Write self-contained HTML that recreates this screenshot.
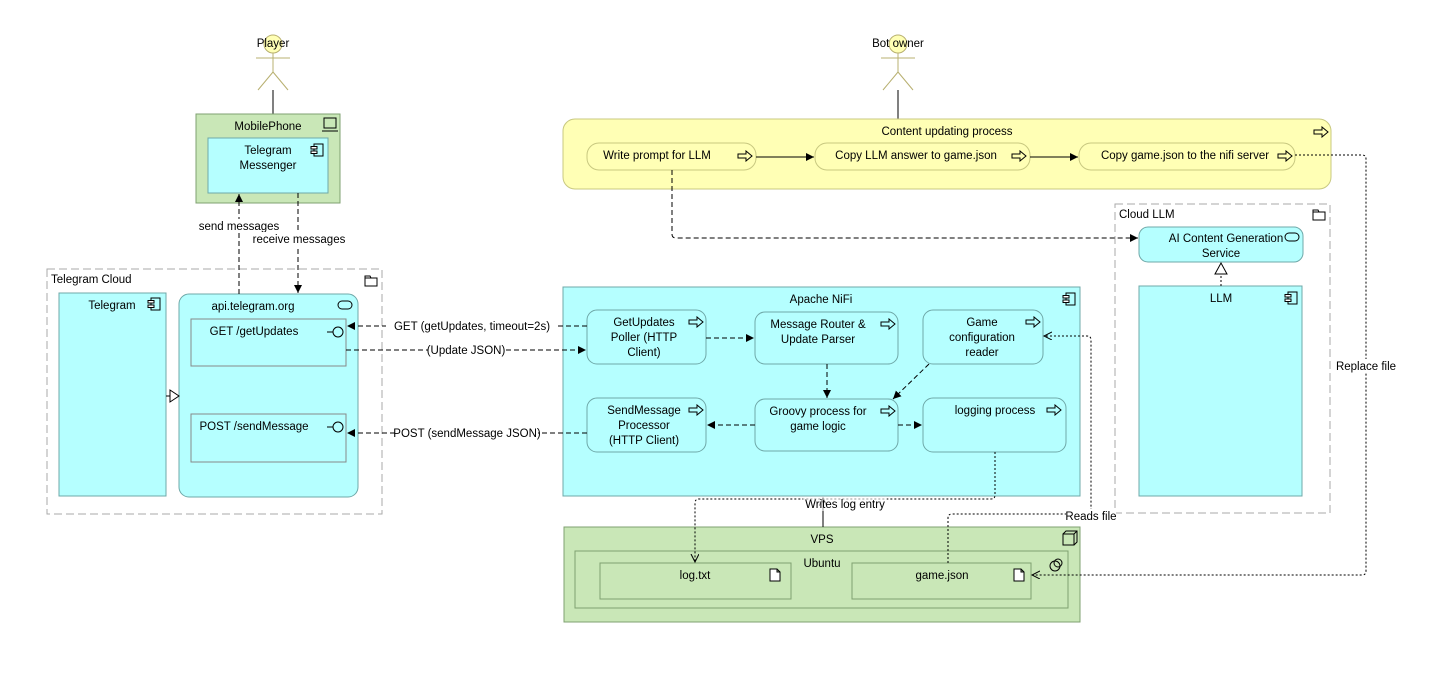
<!DOCTYPE html>
<html><head><meta charset="utf-8"><style>
html,body{margin:0;padding:0;background:#fff;}
svg{display:block;font-family:"Liberation Sans",sans-serif;font-size:11.5px;}
</style></head><body>
<svg width="1456" height="684" viewBox="0 0 1456 684" xmlns="http://www.w3.org/2000/svg">
<defs>
<marker id="fa" markerWidth="10" markerHeight="10" refX="8" refY="4" orient="auto" markerUnits="userSpaceOnUse"><path d="M0,0 L8,4 L0,8 z" fill="#000"/></marker>
<marker id="oa" markerWidth="10" markerHeight="10" refX="8" refY="4" orient="auto" markerUnits="userSpaceOnUse"><path d="M0,0 L8,4 L0,8" fill="none" stroke="#000"/></marker>
<symbol id="comp" viewBox="0 0 14 14"><rect x="4" y="1" width="9" height="12" fill="none" stroke="#000"/><rect x="1" y="3.5" width="6" height="2.5" fill="#fff" stroke="#000"/><rect x="1" y="8" width="6" height="2.5" fill="#fff" stroke="#000"/></symbol>
<symbol id="proc" viewBox="0 0 16 12"><path d="M1,4 H9 V1 L15,6 L9,11 V8 H1 Z" fill="none" stroke="#000"/></symbol>
<symbol id="doc" viewBox="0 0 12 14"><path d="M1,1 H8 L11,4 V13 H1 Z M8,1 V4 H11" fill="#fff" stroke="#000"/></symbol>
<symbol id="fold" viewBox="0 0 14 12"><path d="M1,3 H13 V11 H1 Z M1,3 V1 H6 L7,3" fill="none" stroke="#000"/></symbol>
<symbol id="svc" viewBox="0 0 16 10"><rect x="1" y="1" width="14" height="8" rx="4" fill="none" stroke="#000"/></symbol>
</defs>

<g stroke="#b8b070" fill="none">
<circle cx="273" cy="44" r="9" fill="#ffffb5"/>
<line x1="273" y1="53" x2="273" y2="72"/><line x1="256" y1="58" x2="290" y2="58"/>
<line x1="273" y1="72" x2="258" y2="90"/><line x1="273" y1="72" x2="288" y2="90"/>
<circle cx="898" cy="44" r="9" fill="#ffffb5"/>
<line x1="898" y1="53" x2="898" y2="72"/><line x1="881" y1="58" x2="915" y2="58"/>
<line x1="898" y1="72" x2="883" y2="90"/><line x1="898" y1="72" x2="913" y2="90"/>
</g>
<text x="273" y="47" text-anchor="middle">Player</text>
<text x="898" y="47" text-anchor="middle">Bot owner</text>
<line x1="273" y1="90" x2="273" y2="114" stroke="#000"/>
<line x1="898" y1="90" x2="898" y2="119" stroke="#000"/>

<rect x="196" y="114" width="144" height="89" fill="#c9e7b7" stroke="#7fa070"/>
<text x="268" y="130" text-anchor="middle">MobilePhone</text>
<rect x="324" y="118" width="12" height="10" fill="none" stroke="#000"/><line x1="322" y1="131" x2="338" y2="131" stroke="#000"/>
<rect x="208" y="138" width="120" height="55" fill="#b5ffff" stroke="#6fa8a8"/>
<text x="268" y="154" text-anchor="middle">Telegram</text><text x="268" y="169" text-anchor="middle">Messenger</text>
<use href="#comp" x="310" y="143" width="14" height="14"/>

<rect x="47" y="269" width="335" height="245" fill="none" stroke="#aaa" stroke-dasharray="8,4"/>
<text x="51" y="283">Telegram Cloud</text>
<use href="#fold" x="364" y="275" width="14" height="12"/>
<rect x="59" y="293" width="107" height="203" fill="#b5ffff" stroke="#6fa8a8"/>
<text x="112" y="309" text-anchor="middle">Telegram</text>
<use href="#comp" x="147" y="297" width="14" height="14"/>
<rect x="179" y="294" width="179" height="203" rx="10" fill="#b5ffff" stroke="#6fa8a8"/>
<text x="253" y="310" text-anchor="middle">api.telegram.org</text>
<use href="#svc" x="337" y="300" width="16" height="10"/>
<rect x="191" y="319" width="155" height="47" fill="#b5ffff" stroke="#888"/>
<text x="254" y="335" text-anchor="middle">GET /getUpdates</text>
<line x1="327" y1="332" x2="333" y2="332" stroke="#000"/><circle cx="338" cy="332" r="5" fill="none" stroke="#000"/>
<rect x="191" y="414" width="155" height="48" fill="#b5ffff" stroke="#888"/>
<text x="254" y="430" text-anchor="middle">POST /sendMessage</text>
<line x1="327" y1="427" x2="333" y2="427" stroke="#000"/><circle cx="338" cy="427" r="5" fill="none" stroke="#000"/>
<path d="M170,390 L179,396 L170,402 Z" fill="#fff" stroke="#000"/><line x1="166" y1="396" x2="170" y2="396" stroke="#000"/>

<g stroke="#000" stroke-dasharray="5,3" fill="none">
<line x1="239" y1="294" x2="239" y2="194" marker-end="url(#fa)"/>
<line x1="298" y1="193" x2="298" y2="293" marker-end="url(#fa)"/>
</g>
<rect x="198" y="219" width="82" height="14" fill="#fff"/>
<text x="239" y="230" text-anchor="middle">send messages</text>
<rect x="252" y="232" width="94" height="14" fill="#fff"/>
<text x="299" y="243" text-anchor="middle">receive messages</text>

<rect x="563" y="119" width="768" height="70" rx="12" fill="#ffffb5" stroke="#c8c880"/>
<text x="947" y="135" text-anchor="middle">Content updating process</text>
<use href="#proc" x="1313" y="126" width="16" height="12"/>
<rect x="587" y="143" width="169" height="27" rx="12" fill="#ffffb5" stroke="#c8c880"/>
<text x="657" y="159" text-anchor="middle">Write prompt for LLM</text>
<use href="#proc" x="737" y="150" width="16" height="12"/>
<rect x="815" y="143" width="215" height="27" rx="12" fill="#ffffb5" stroke="#c8c880"/>
<text x="916" y="159" text-anchor="middle">Copy LLM answer to game.json</text>
<use href="#proc" x="1011" y="150" width="16" height="12"/>
<rect x="1079" y="143" width="216" height="27" rx="12" fill="#ffffb5" stroke="#c8c880"/>
<text x="1185" y="159" text-anchor="middle">Copy game.json to the nifi server</text>
<use href="#proc" x="1277" y="150" width="16" height="12"/>
<line x1="756" y1="157" x2="814" y2="157" stroke="#000" marker-end="url(#fa)"/>
<line x1="1030" y1="157" x2="1078" y2="157" stroke="#000" marker-end="url(#fa)"/>

<rect x="1115" y="204" width="215" height="309" fill="none" stroke="#aaa" stroke-dasharray="8,4"/>
<text x="1119" y="218">Cloud LLM</text>
<use href="#fold" x="1312" y="209" width="14" height="12"/>
<rect x="1139" y="227" width="164" height="35" rx="9" fill="#b5ffff" stroke="#6fa8a8"/>
<text x="1226" y="242" text-anchor="middle">AI Content Generation</text>
<text x="1221" y="257" text-anchor="middle">Service</text>
<use href="#svc" x="1284" y="232" width="16" height="10"/>
<rect x="1139" y="286" width="163" height="210" fill="#b5ffff" stroke="#6fa8a8"/>
<text x="1221" y="302" text-anchor="middle">LLM</text>
<use href="#comp" x="1284" y="291" width="14" height="14"/>
<line x1="1221" y1="286" x2="1221" y2="273" stroke="#000" stroke-dasharray="2,2"/>
<path d="M1215,274 L1221,263 L1227,274 Z" fill="#fff" stroke="#000"/>
<path d="M672,170 V234 Q672,238 676,238 H1138" fill="none" stroke="#000" stroke-dasharray="5,3" marker-end="url(#fa)"/>

<rect x="563" y="287" width="517" height="209" fill="#b5ffff" stroke="#6fa8a8"/>
<text x="821" y="303" text-anchor="middle">Apache NiFi</text>
<use href="#comp" x="1062" y="292" width="14" height="14"/>
<g fill="#b5ffff" stroke="#6fa8a8">
<rect x="587" y="310" width="119" height="54" rx="10"/>
<rect x="755" y="312" width="143" height="52" rx="10"/>
<rect x="923" y="310" width="120" height="54" rx="10"/>
<rect x="587" y="398" width="119" height="54" rx="10"/>
<rect x="755" y="399" width="143" height="52" rx="10"/>
<rect x="923" y="398" width="143" height="54" rx="10"/>
</g>
<text x="644" y="326" text-anchor="middle">GetUpdates</text><text x="644" y="341" text-anchor="middle">Poller (HTTP</text><text x="644" y="356" text-anchor="middle">Client)</text>
<use href="#proc" x="688" y="316" width="16" height="12"/>
<text x="818" y="328" text-anchor="middle">Message Router &amp;</text><text x="818" y="343" text-anchor="middle">Update Parser</text>
<use href="#proc" x="880" y="318" width="16" height="12"/>
<text x="982" y="326" text-anchor="middle">Game</text><text x="982" y="341" text-anchor="middle">configuration</text><text x="982" y="356" text-anchor="middle">reader</text>
<use href="#proc" x="1025" y="316" width="16" height="12"/>
<text x="644" y="414" text-anchor="middle">SendMessage</text><text x="644" y="429" text-anchor="middle">Processor</text><text x="644" y="444" text-anchor="middle">(HTTP Client)</text>
<use href="#proc" x="688" y="404" width="16" height="12"/>
<text x="818" y="415" text-anchor="middle">Groovy process for</text><text x="818" y="430" text-anchor="middle">game logic</text>
<use href="#proc" x="880" y="405" width="16" height="12"/>
<text x="995" y="414" text-anchor="middle">logging process</text>
<use href="#proc" x="1046" y="404" width="16" height="12"/>

<g stroke="#000" stroke-dasharray="5,3" fill="none">
<line x1="706" y1="338" x2="754" y2="338" marker-end="url(#fa)"/>
<line x1="827" y1="364" x2="827" y2="398" marker-end="url(#fa)"/>
<line x1="929" y1="364" x2="893" y2="399" marker-end="url(#fa)"/>
<line x1="755" y1="425" x2="707" y2="425" marker-end="url(#fa)"/>
<line x1="898" y1="425" x2="922" y2="425" marker-end="url(#fa)"/>
<line x1="587" y1="326" x2="347" y2="326" marker-end="url(#fa)"/>
<line x1="346" y1="350" x2="586" y2="350" marker-end="url(#fa)"/>
<line x1="587" y1="433" x2="347" y2="433" marker-end="url(#fa)"/>
</g>
<rect x="386" y="319" width="172" height="14" fill="#fff"/>
<text x="472" y="330" text-anchor="middle">GET (getUpdates, timeout=2s)</text>
<rect x="428" y="343" width="76" height="14" fill="#fff"/>
<text x="466" y="354" text-anchor="middle">(Update JSON)</text>
<rect x="396" y="426" width="142" height="14" fill="#fff"/>
<text x="467" y="437" text-anchor="middle">POST (sendMessage JSON)</text>

<rect x="564" y="527" width="516" height="95" fill="#c9e7b7" stroke="#7fa070"/>
<text x="822" y="543" text-anchor="middle">VPS</text>
<path d="M1063,534 H1074 V545 H1063 Z M1063,534 L1066,531 H1077 V542 L1074,545 M1074,534 L1077,531" fill="none" stroke="#000"/>
<rect x="575" y="551" width="493" height="57" fill="#c9e7b7" stroke="#7fa070"/>
<text x="822" y="567" text-anchor="middle">Ubuntu</text>
<circle cx="1055" cy="566" r="5" fill="none" stroke="#000"/><circle cx="1058" cy="563" r="4" fill="none" stroke="#000"/>
<rect x="600" y="563" width="191" height="36" fill="#c9e7b7" stroke="#7fa070"/>
<text x="695" y="579" text-anchor="middle">log.txt</text>
<use href="#doc" x="769" y="568" width="12" height="14"/>
<rect x="852" y="563" width="179" height="36" fill="#c9e7b7" stroke="#7fa070"/>
<text x="942" y="579" text-anchor="middle">game.json</text>
<use href="#doc" x="1013" y="568" width="12" height="14"/>

<line x1="823" y1="527" x2="823" y2="498" stroke="#000" marker-end="url(#oa)"/>
<g stroke="#000" stroke-dasharray="2,2" fill="none">
<path d="M995,452 V495 Q995,499 991,499 H699 Q695,499 695,503 V562" marker-end="url(#oa)"/>
<path d="M948,563 V518 Q948,514 952,514 H1087 Q1091,514 1091,510 V340 Q1091,336 1087,336 H1044" marker-end="url(#oa)"/>
<path d="M1295,155 H1362 Q1366,155 1366,159 V571 Q1366,575 1362,575 H1032" marker-end="url(#oa)"/>
</g>
<rect x="803" y="497" width="84" height="14" fill="#fff" fill-opacity="0.6"/>
<text x="845" y="508" text-anchor="middle">Writes log entry</text>
<rect x="1066" y="509" width="50" height="14" fill="#fff"/>
<text x="1091" y="520" text-anchor="middle">Reads file</text>
<rect x="1337" y="359" width="58" height="14" fill="#fff"/>
<text x="1366" y="370" text-anchor="middle">Replace file</text>
</svg>
</body></html>
